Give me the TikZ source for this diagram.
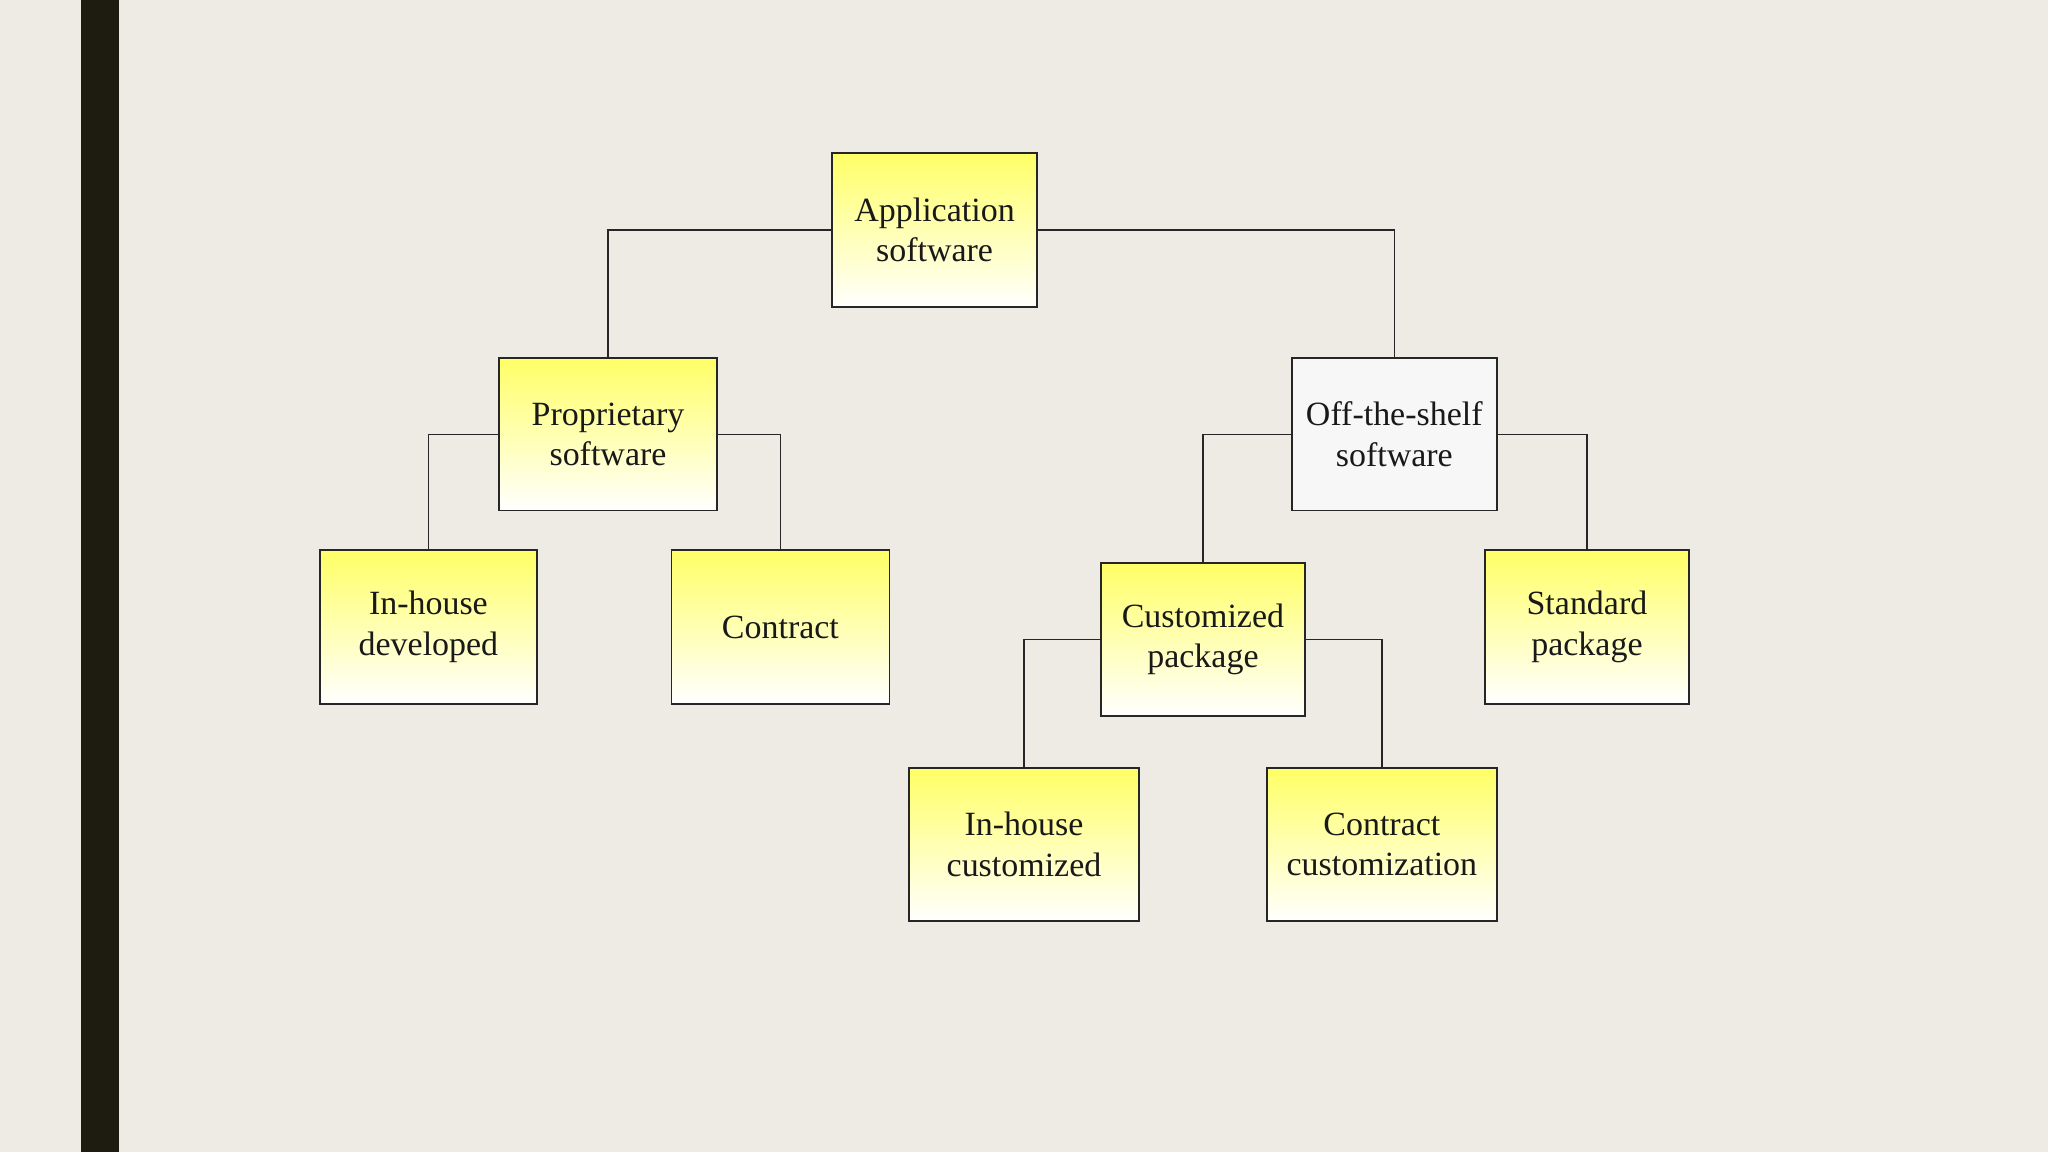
\documentclass[tikz,border=0pt]{standalone}
\usepackage{fontspec}
\setmainfont{Liberation Serif}
\begin{document}
\begin{tikzpicture}[x=0.5pt,y=-0.5pt,
  box/.style={draw=black!85,line width=0.6pt,top color=yellow!60,bottom color=white,inner sep=0pt,align=center,font=\fontsize{13}{15.5}\selectfont,text=black!90},
  plain/.style={box,top color=white!97!black,bottom color=white!97!black},
  con/.style={draw=black!85,line width=0.6pt}]
\definecolor{bg}{HTML}{EEEBE4}
\definecolor{bar}{HTML}{1E1C10}
\fill[bg] (0,0) rectangle (1568,882);
\useasboundingbox (0,0) rectangle (1568,882);
\fill[bar] (62,0) rectangle (91,882);
\newcommand{\bx}[7]{\node[#7,minimum width={(#4-#2)*0.5pt},minimum height={(#5-#3)*0.5pt}] (#1) at ({(#2+#4)/2},{(#3+#5)/2}) {#6};}
\bx{app}{637}{117}{794}{235}{Application\\software}{box}
\bx{prop}{382}{274}{549}{391}{Proprietary\\software}{box}
\bx{off}{989}{274}{1146}{391}{Off-the-shelf\\software}{plain}
\bx{ihd}{245}{421}{411}{539}{In-house\\developed}{box}
\bx{con}{514}{421}{681}{539}{Contract}{box}
\bx{cust}{843}{431}{999}{548}{Customized\\package}{box}
\bx{std}{1137}{421}{1293}{539}{Standard\\package}{box}
\bx{ihc}{696}{588}{872}{705}{In-house\\customized}{box}
\bx{cc}{970}{588}{1146}{705}{Contract\\customization}{box}
\draw[con] (app.west) -| (prop.north);
\draw[con] (app.east) -| (off.north);
\draw[con] (prop.west) -| (ihd.north);
\draw[con] (prop.east) -| (con.north);
\draw[con] (off.west) -| (cust.north);
\draw[con] (off.east) -| (std.north);
\draw[con] (cust.west) -| (ihc.north);
\draw[con] (cust.east) -| (cc.north);
\end{tikzpicture}
\end{document}
